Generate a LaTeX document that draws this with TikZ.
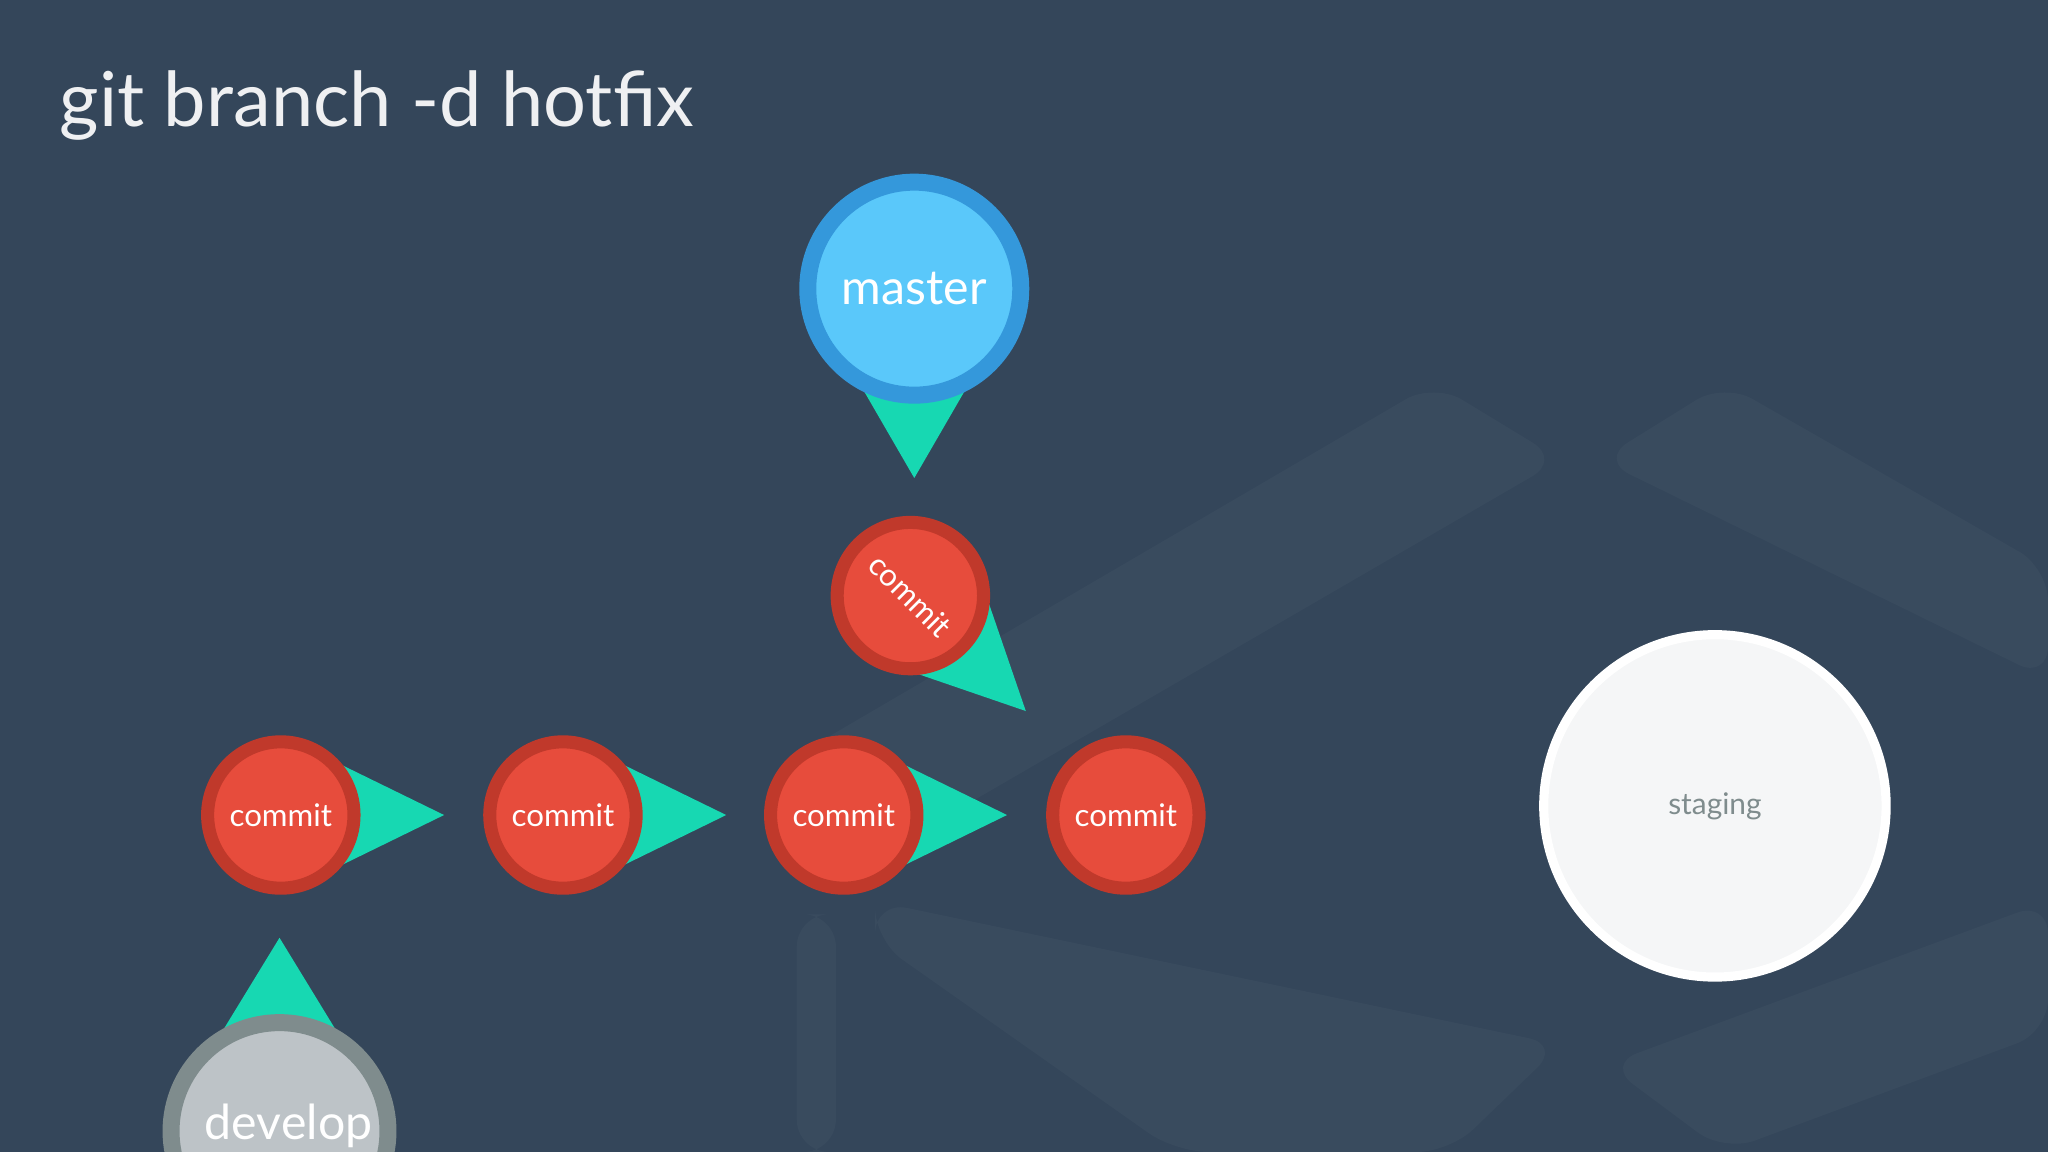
\documentclass[tikz,border=0pt]{standalone}
\usepackage{fontspec}
\setmainfont{Lato}
\begin{document}
\begin{tikzpicture}[x=0.01cm,y=-0.01cm,
  commitc/.style={circle,draw=cred,fill=cin,minimum size=1.12cm,line width=0.1cm,text=white,font=\fontsize{6.8}{8}\selectfont,inner sep=0pt},
  arr/.style={fill=teal2},
  slab/.style={fill=white,fill opacity=0.028,rounded corners=0.25cm}]
\definecolor{bg}{HTML}{34465A}
\definecolor{cred}{HTML}{C0392B}
\definecolor{cin}{HTML}{E74C3C}
\definecolor{teal2}{HTML}{17D8B2}
\definecolor{mout}{HTML}{3498DB}
\definecolor{min}{HTML}{5AC8FA}
\definecolor{dout}{HTML}{7F8C8D}
\definecolor{din}{HTML}{BDC3C7}
\fill[bg] (0,0) rectangle (1568,882);
\useasboundingbox (0,0) rectangle (1568,882);
% faint background slabs
\fill[slab] (1098,293) -- (1195,352) -- (690,645) -- (590,590) -- cycle;
\fill[slab] (1320,293) -- (1568,435) -- (1568,520) -- (1225,352) -- cycle;
\fill[slab] (670,690) -- (1195,800) -- (1110,882) -- (900,882) -- (670,720) -- cycle;
\fill[slab] (1568,690) -- (1568,790) -- (1320,882) -- (1230,815) -- cycle;
\fill[slab] (610,700) -- (640,700) -- (640,882) -- (610,882) -- cycle;
\node[anchor=base west,text=white!92!bg,font=\fontsize{16.5}{20}\selectfont,inner sep=0pt] (title) at (45,97) {git branch -d hotfix};
% arrows
\foreach \x in {215,431,646}{
  \fill[arr] (\x+35,580) -- (\x+35,668) -- (\x+125,624) -- cycle;}
\fill[arr,rotate around={-45:(697,456)}] (697+35,412) -- (697+35,500) -- (697+125,456) -- cycle;
\fill[arr] (656,290) -- (744,290) -- (700,366) -- cycle;
\fill[arr] (170,790) -- (258,790) -- (214,718) -- cycle;
% commits
\node[commitc] (c1) at (215,624) {commit};
\node[commitc] (c2) at (431,624) {commit};
\node[commitc] (c3) at (646,624) {commit};
\node[commitc] (c4) at (862,624) {commit};
\node[commitc,rotate=-45] (c5) at (697,456) {commit};
% master
\node[circle,draw=mout,fill=min,line width=0.13cm,minimum size=1.63cm,text=white,font=\fontsize{10.5}{12}\selectfont,inner sep=0pt] (master) at (700,221) {master};
% develop
\node[circle,draw=dout,fill=din,line width=0.13cm,minimum size=1.66cm,inner sep=0pt] (develop) at (214,866) {};
\node[text=white,font=\fontsize{10.5}{12}\selectfont,inner sep=0pt] (devt) at (221,862) {develop};
% staging
\node[circle,draw=white,fill=white!85!din,line width=0.07cm,minimum size=2.62cm,text=dout,font=\fontsize{6.5}{8}\selectfont,inner sep=0pt] (staging) at (1313,617) {staging};
\end{tikzpicture}
\end{document}
